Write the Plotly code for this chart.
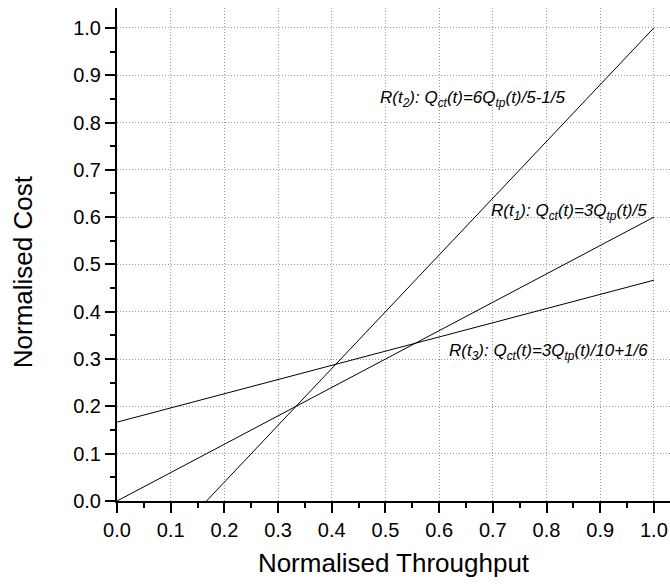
import plotly.graph_objects as go

# Data: line endpoints (normalised throughput, normalised cost)
t1_x = [0.0, 1.0]
t1_y = [0.0, 0.6]
t2_x = [0.1667, 1.0]
t2_y = [0.0, 1.0]
t3_x = [0.0, 1.0]
t3_y = [0.1667, 0.4667]

labels = [
    "<i>R(t<sub>2</sub>): Q<sub>ct</sub>(t)=6Q<sub>tp</sub>(t)/5-1/5</i>",
    "<i>R(t<sub>1</sub>): Q<sub>ct</sub>(t)=3Q<sub>tp</sub>(t)/5</i>",
    "<i>R(t<sub>3</sub>): Q<sub>ct</sub>(t)=3Q<sub>tp</sub>(t)/10+1/6</i>",
]
label_x = [0.486, 0.693, 0.614]
label_y = [0.850, 0.611, 0.315]

tick_vals = [0.0, 0.1, 0.2, 0.3, 0.4, 0.5, 0.6, 0.7, 0.8, 0.9, 1.0]
tick_text = ["0.0", "0.1", "0.2", "0.3", "0.4", "0.5", "0.6", "0.7", "0.8", "0.9", "1.0"]

FONT = "Liberation Sans, Arial, Helvetica, sans-serif"

fig = go.Figure()
for xs, ys in [(t1_x, t1_y), (t2_x, t2_y), (t3_x, t3_y)]:
    fig.add_trace(go.Scatter(x=xs, y=ys, mode="lines",
                             line=dict(color="black", width=1),
                             showlegend=False, hoverinfo="skip"))

for txt, lx, ly in zip(labels, label_x, label_y):
    fig.add_annotation(x=lx, y=ly, xref="x", yref="y", text=txt,
                       showarrow=False, xanchor="left", yanchor="middle",
                       font=dict(family=FONT, size=17, color="black"))

fig.add_annotation(x=-0.17, y=0.466, xref="paper", yref="paper",
                   text="Normalised Cost", textangle=-90, showarrow=False,
                   xanchor="center", yanchor="middle",
                   font=dict(family=FONT, size=26, color="black"))

axis_common = dict(
    showline=True, linewidth=2, linecolor="black", mirror=False,
    ticks="outside", ticklen=10, tickwidth=2, tickcolor="black",
    tickvals=tick_vals, ticktext=tick_text,
    tickfont=dict(family=FONT, size=20, color="black"),
    showgrid=True, gridcolor="#999999", gridwidth=1, griddash="1px,2px",
    zeroline=False,
    minor=dict(dtick=0.05, ticks="outside", ticklen=5, tickwidth=2,
               tickcolor="black", showgrid=False),
)

fig.update_layout(
    width=670, height=584,
    margin=dict(l=117, r=0, t=8, b=83),
    plot_bgcolor="white", paper_bgcolor="white",
    xaxis=dict(range=[0, 1.03],
               title=dict(text="Normalised Throughput", standoff=14,
                          font=dict(family=FONT, size=26, color="black")),
               **axis_common),
    yaxis=dict(range=[0, 1.042], **axis_common),
)

fig.write_html("out.html", config={"displayModeBar": False},
               post_script="document.body.style.margin='0px';document.body.style.padding='0px';")
